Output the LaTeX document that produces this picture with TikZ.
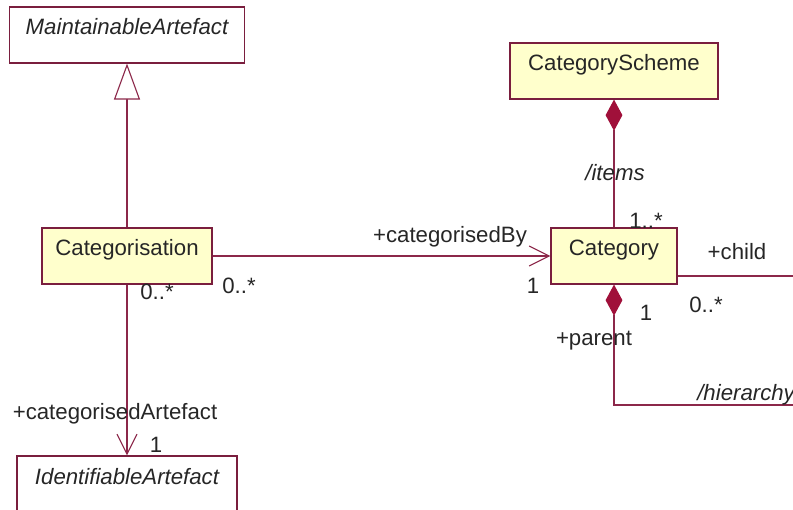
\documentclass[tikz,border=0pt]{standalone}
\usepackage{fontspec}
\setmainfont{Liberation Sans}
\usepackage{tikz}
\usetikzlibrary{arrows.meta,positioning,calc}

\definecolor{umlline}{RGB}{140,40,74}
\definecolor{umlbox}{RGB}{122,30,62}
\definecolor{umlfill}{RGB}{255,255,204}
\definecolor{umldiam}{RGB}{160,16,58}

\begin{document}
\begin{tikzpicture}[x=0.025cm, y=-0.025cm,
    font=\fontsize{15.8}{19}\selectfont, text=black!85,
    cls/.style={rectangle, draw=umlbox, fill=umlfill, line width=0.8pt,
      inner xsep=0pt, inner ysep=0pt, text height=0.7cm, text depth=0.7cm},
    abstr/.style={cls, fill=white, font=\fontsize{15.8}{19}\selectfont\itshape},
    inherit/.style={-{Triangle[open, fill=white, length=0.9cm, width=0.65cm]}, umlline, line width=0.8pt},
    assoc/.style={-{Straight Barb[length=0.5cm, width=0.5cm]}, umlline, line width=0.8pt},
    compo/.style={{Diamond[length=0.78cm, width=0.42cm, color=umldiam]}-, umlline, line width=0.8pt},
    role/.style={anchor=base, inner sep=0pt}]

    \useasboundingbox (0,0) rectangle (793,510);
    \clip (0,0) rectangle (793,510);

    % Classes
    \node[abstr, minimum width=5.875cm] (maint) at (127,35) {MaintainableArtefact};
    \node[cls, minimum width=4.25cm] (cat) at (127,256) {Categorisation};
    \node[abstr, minimum width=5.5cm] (ident) at (127,484) {IdentifiableArtefact};
    \node[cls, minimum width=5.2cm] (scheme) at (614,71) {CategoryScheme};
    \node[cls, minimum width=3.15cm] (categ) at (614,256) {Category};

    % Relations
    \draw[inherit] (cat) -- (maint);
    \draw[assoc] (cat) -- (categ);
    \draw[assoc] (cat) -- (ident);
    \draw[compo] (scheme) -- (categ);

    % Parent/child loop runs off to the right
    \coordinate (hierlow) at (805,405);
    \coordinate (hierhigh) at (805,276);
    \draw[compo] (categ.south) |- (hierlow) -- (hierhigh) -- (categ.east |- hierhigh);

    % Role names and multiplicities
    \node[role] (itemsrole) at (615,181) {\itshape /items};
    \node[role] (itemsmult) at (646,229) {1..*};
    \node[role] (byrole) at (450,243) {+categorisedBy};
    \node[role] (bymult) at (533,293) {1};
    \node[role] (catbymult) at (239,293) {0..*};
    \node[role] (catartmult) at (157,300) {0..*};
    \node[role] (artrole) at (115,419) {+categorisedArtefact};
    \node[role] (artmult) at (156,452) {1};
    \node[role] (childrole) at (737,260) {+child};
    \node[role] (childmult) at (706,312) {0..*};
    \node[role] (parentmult) at (646,320) {1};
    \node[role] (parentrole) at (594,345) {+parent};
    \node[role, anchor=base west] (hierrole) at (697,400) {\itshape /hierarchy};

\end{tikzpicture}
\end{document}
